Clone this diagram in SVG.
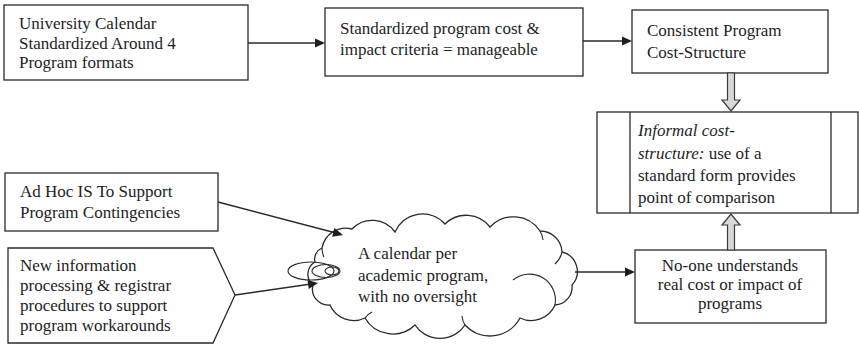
<svg xmlns="http://www.w3.org/2000/svg" width="859" height="345" viewBox="0 0 859 345">
  <style>
    .box { fill: #fff; stroke: #2a2a2a; stroke-width: 1.3; }
    .edge { fill: none; stroke: #2a2a2a; stroke-width: 1.4; }
    .fold { fill: none; stroke: #2a2a2a; stroke-width: 1.1; }
    .head { fill: #1e1e1e; stroke: none; }
    .hollow { fill: #d8d8d8; stroke: #3a3a3a; stroke-width: 1.2; }
    text { font-family: "Liberation Serif", "Times New Roman", "DejaVu Serif", serif; font-size: 17px; fill: #1e1e1e; }
    .mid { text-anchor: middle; }
    .it { font-style: italic; }
  </style>
  <defs>
    <!-- solid arrowhead, tip at the origin pointing along +x -->
    <path id="tip" d="M0,0 L-10,-4.5 L-10,4.5 z"/>
  </defs>

  <g id="calendar-standard">
    <rect class="box" x="4" y="5" width="244" height="75"/>
    <text x="19" y="29">University Calendar</text>
    <text x="19" y="48.5">Standardized Around 4</text>
    <text x="19" y="68">Program formats</text>
  </g>

  <g id="standard-criteria">
    <rect class="box" x="325" y="8" width="258" height="68"/>
    <text x="340" y="34">Standardized program cost &amp;</text>
    <text x="340" y="55">impact criteria = manageable</text>
  </g>

  <g id="consistent-structure">
    <rect class="box" x="632" y="10" width="196" height="63"/>
    <text x="647" y="36">Consistent Program</text>
    <text x="647" y="58">Cost-Structure</text>
  </g>

  <g id="informal-structure">
    <rect class="box" x="597" y="112" width="261" height="101"/>
    <line class="box" x1="630" y1="112" x2="630" y2="213"/>
    <line class="box" x1="831" y1="112" x2="831" y2="213"/>
    <text x="638" y="136" class="it">Informal cost-</text>
    <text x="638" y="158.5"><tspan class="it">structure:</tspan> use of a</text>
    <text x="638" y="181">standard form provides</text>
    <text x="638" y="203">point of comparison</text>
  </g>

  <g id="ad-hoc-is">
    <rect class="box" x="5" y="173" width="213" height="58"/>
    <text x="20" y="197">Ad Hoc IS To Support</text>
    <text x="20" y="218">Program Contingencies</text>
  </g>

  <g id="new-procedures">
    <path class="box" d="M8,248 L213,248 L235,295 L213,343 L8,343 z"/>
    <text x="20" y="271">New information</text>
    <text x="20" y="291">processing &amp; registrar</text>
    <text x="20" y="311">procedures to support</text>
    <text x="20" y="331">program workarounds</text>
  </g>

  <g id="calendar-cloud">
    <path class="box" d="M322,248 A24,24 0 0 1 352,229 A28,28 0 0 1 395,232 A30,30 0 0 1 445,224 A30,30 0 0 1 490,227 A32,32 0 0 1 540,231 A22,22 0 0 1 562,252 A20,20 0 0 1 572,285 A18,18 0 0 1 555,305 A26,26 0 0 1 520,318 A34,34 0 0 1 465,325 A30,30 0 0 1 415,325 A32,32 0 0 1 365,318 A26,26 0 0 1 330,305 A16,16 0 0 1 313,285 A14,14 0 0 1 315,262 A12,12 0 0 1 322,248 z"/>
    <!-- inner fold lines of the cloud -->
    <path class="fold" d="M322,248 A20,20 0 0 0 324,257"/>
    <path class="fold" d="M540,231 A20,20 0 0 1 543,240"/>
    <path class="fold" d="M562,252 A22,22 0 0 1 555,264"/>
    <path class="fold" d="M555,305 A26,26 0 0 0 513,280"/>
    <path class="fold" d="M465,325 A20,20 0 0 1 462,316"/>
    <path class="fold" d="M365,318 A18,18 0 0 1 372,312"/>
    <!-- thought-bubble tail -->
    <ellipse class="fold" cx="311" cy="271" rx="23" ry="9"/>
    <ellipse class="fold" cx="326" cy="271" rx="14" ry="6.5"/>
    <ellipse class="fold" cx="332" cy="271" rx="7" ry="4"/>
    <text x="358" y="259">A calendar  per</text>
    <text x="358" y="281">academic program,</text>
    <text x="358" y="302">with no oversight</text>
  </g>

  <g id="no-one-understands">
    <rect class="box" x="635" y="250" width="191" height="73"/>
    <text x="730" y="271" class="mid">No-one understands</text>
    <text x="730" y="290" class="mid">real cost or impact of</text>
    <text x="730" y="309" class="mid">programs</text>
  </g>

  <!-- connectors -->
  <g id="connectors">
    <line class="edge" x1="248" y1="43" x2="318" y2="43"/>
    <use href="#tip" class="head" transform="translate(325,43)"/>
    <line class="edge" x1="583" y1="41" x2="625" y2="41"/>
    <use href="#tip" class="head" transform="translate(632,41)"/>
    <line class="edge" x1="218" y1="202" x2="336" y2="233"/>
    <use href="#tip" class="head" transform="translate(343,235) rotate(14.8)"/>
    <line class="edge" x1="235" y1="295" x2="311" y2="284"/>
    <use href="#tip" class="head" transform="translate(318,283) rotate(-8.2)"/>
    <line class="edge" x1="575" y1="272" x2="628" y2="272"/>
    <use href="#tip" class="head" transform="translate(635,272)"/>
    <!-- block arrows between the cost-structure boxes -->
    <path class="hollow" d="M727.5,73 L734.5,73 L734.5,100 L740,100 L731,111 L722,100 L727.5,100 z"/>
    <path class="hollow" d="M727.5,250 L734.5,250 L734.5,225 L740,225 L731,214 L722,225 L727.5,225 z"/>
  </g>
</svg>
